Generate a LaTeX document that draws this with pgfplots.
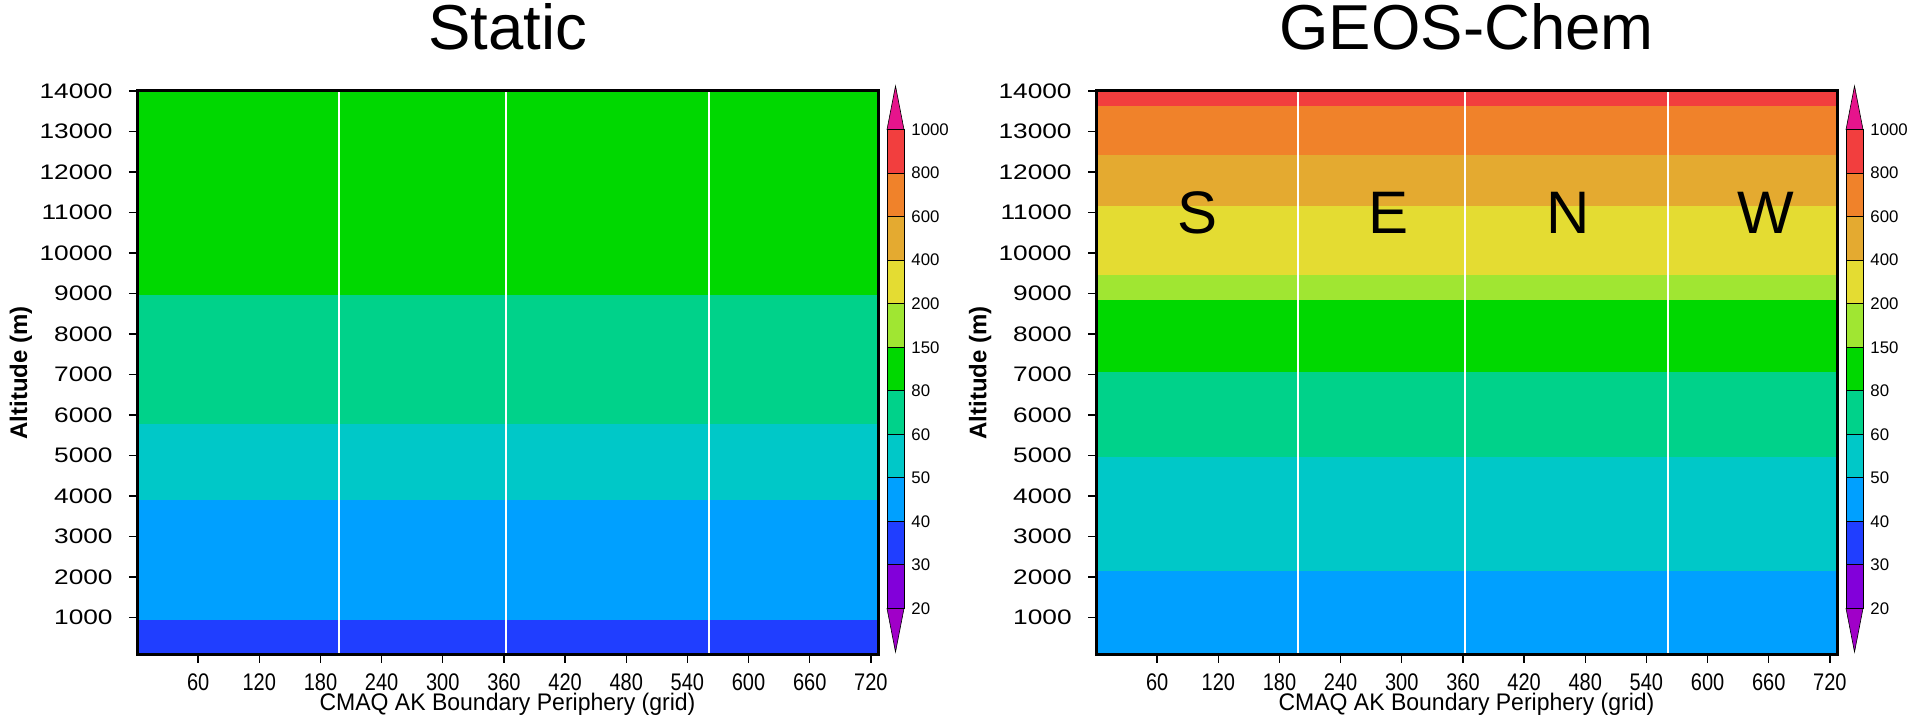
\documentclass[border=0pt]{standalone}
\usepackage{pgfplots}
\pgfplotsset{compat=1.18}
\usepackage{fontspec}
\setmainfont{Liberation Sans}
\usepackage{graphicx}

\definecolor{cPink}{RGB}{230,20,140}
\definecolor{cRed}{RGB}{242,62,62}
\definecolor{cOrange}{RGB}{240,130,42}
\definecolor{cGold}{RGB}{228,170,48}
\definecolor{cYellow}{RGB}{228,220,50}
\definecolor{cYGreen}{RGB}{160,230,50}
\definecolor{cGreen}{RGB}{0,216,0}
\definecolor{cTeal}{RGB}{0,210,138}
\definecolor{cCyan}{RGB}{0,200,200}
\definecolor{cLBlue}{RGB}{0,160,255}
\definecolor{cBlue}{RGB}{32,62,255}
\definecolor{cPurple}{RGB}{130,0,218}
\definecolor{cPurple2}{RGB}{160,0,200}

\pgfplotsset{
  mainax/.style={
    scale only axis, width=370.5pt, height=282pt,
    xmin=0, xmax=727, ymin=75, ymax=14000,
    axis on top, axis line style={line width=1.5pt},
    tick align=outside, xtick pos=bottom, ytick pos=left,
    scaled x ticks=false, scaled y ticks=false,
    major tick length=4pt, tick style={line width=0.7pt, black},
    xtick={60,120,...,720}, ytick={1000,2000,...,14000},
    xticklabel={\scalebox{1.0}[1.2]{\pgfmathprintnumber[assume math mode=true,1000 sep={},fixed,precision=0]{\tick}}},
    yticklabel={\scalebox{1.25}[1]{\pgfmathprintnumber[assume math mode=true,1000 sep={},fixed,precision=0]{\tick}}},
    xticklabel style={font=\fontsize{10}{12}\selectfont, anchor=center, inner sep=0pt, yshift=-9.5pt},
    yticklabel style={font=\fontsize{10.5}{12}\selectfont, anchor=east, inner sep=0pt, xshift=-8pt},
    xlabel={\scalebox{1.15}[1.2]{CMAQ AK Boundary Periphery (grid)}},
    xlabel style={at={(axis description cs:0.5,-0.087)}, anchor=center, inner sep=0pt, font=\fontsize{10}{12}\selectfont},
    ylabel={Altitude (m)},
    ylabel style={at={(axis description cs:-0.1565,0.5)}, anchor=center, font=\bfseries\fontsize{12}{14}\selectfont},
    title style={at={(axis description cs:0.5,1)}, anchor=base, yshift=14.5pt, font=\fontsize{31.75}{36}\selectfont},
  },
  cbax/.style={
    anchor=south west, scale only axis, width=8.5pt, height=283pt,
    xmin=0, xmax=1, ymin=0, ymax=13, clip=false,
    axis line style={draw=none}, xtick=\empty,
    ytick={1,...,12}, yticklabels={20,30,40,50,60,80,150,200,400,600,800,1000},
    yticklabel pos=right, major tick length=0pt, tick style={draw=none},
    yticklabel style={anchor=west, inner sep=0pt, xshift=3.5pt, font=\fontsize{8.4}{10}\selectfont},
  },
  box/.style={draw=black, line width=0.5pt},
}

\newcommand{\colorbar}{%
  \addplot[fill=cPurple2, draw=black, line width=0.3pt] coordinates {(0,1) (1,1) (0.5,0)} -- cycle;
  \addplot[fill=cPink, draw=black, line width=0.3pt] coordinates {(0,12) (1,12) (0.5,13)} -- cycle;
  \addplot[box, fill=cPurple] coordinates {(0,1) (1,1) (1,2) (0,2)} -- cycle;
  \addplot[box, fill=cBlue] coordinates {(0,2) (1,2) (1,3) (0,3)} -- cycle;
  \addplot[box, fill=cLBlue] coordinates {(0,3) (1,3) (1,4) (0,4)} -- cycle;
  \addplot[box, fill=cCyan] coordinates {(0,4) (1,4) (1,5) (0,5)} -- cycle;
  \addplot[box, fill=cTeal] coordinates {(0,5) (1,5) (1,6) (0,6)} -- cycle;
  \addplot[box, fill=cGreen] coordinates {(0,6) (1,6) (1,7) (0,7)} -- cycle;
  \addplot[box, fill=cYGreen] coordinates {(0,7) (1,7) (1,8) (0,8)} -- cycle;
  \addplot[box, fill=cYellow] coordinates {(0,8) (1,8) (1,9) (0,9)} -- cycle;
  \addplot[box, fill=cGold] coordinates {(0,9) (1,9) (1,10) (0,10)} -- cycle;
  \addplot[box, fill=cOrange] coordinates {(0,10) (1,10) (1,11) (0,11)} -- cycle;
  \addplot[box, fill=cRed] coordinates {(0,11) (1,11) (1,12) (0,12)} -- cycle;
}

\newcommand{\whitelines}{%
  \addplot[white, line width=1.2pt] coordinates {(198,75) (198,14000)};
  \addplot[white, line width=1.2pt] coordinates {(362,75) (362,14000)};
  \addplot[white, line width=1.2pt] coordinates {(561,75) (561,14000)};
}

\begin{document}
\begin{tikzpicture}
\useasboundingbox (0,0) rectangle (965.5pt,357.5pt);

% ---- Static ----
\begin{axis}[mainax, at={(68.5pt,30pt)}, anchor=south west, title={Static}]
  \addplot[fill=cBlue, draw=none] coordinates {(0,75) (727,75) (727,950) (0,950)} -- cycle;
  \addplot[fill=cLBlue, draw=none] coordinates {(0,950) (727,950) (727,3900) (0,3900)} -- cycle;
  \addplot[fill=cCyan, draw=none] coordinates {(0,3900) (727,3900) (727,5790) (0,5790)} -- cycle;
  \addplot[fill=cTeal, draw=none] coordinates {(0,5790) (727,5790) (727,8960) (0,8960)} -- cycle;
  \addplot[fill=cGreen, draw=none] coordinates {(0,8960) (727,8960) (727,14000) (0,14000)} -- cycle;
  \whitelines
\end{axis}
\begin{axis}[cbax, at={(443.5pt,31.5pt)}]
  \colorbar
\end{axis}

% ---- GEOS-Chem ----
\begin{axis}[mainax, at={(548pt,30pt)}, anchor=south west, title={GEOS-Chem}]
  \addplot[fill=cLBlue, draw=none] coordinates {(0,75) (727,75) (727,2140) (0,2140)} -- cycle;
  \addplot[fill=cCyan, draw=none] coordinates {(0,2140) (727,2140) (727,4960) (0,4960)} -- cycle;
  \addplot[fill=cTeal, draw=none] coordinates {(0,4960) (727,4960) (727,7050) (0,7050)} -- cycle;
  \addplot[fill=cGreen, draw=none] coordinates {(0,7050) (727,7050) (727,8850) (0,8850)} -- cycle;
  \addplot[fill=cYGreen, draw=none] coordinates {(0,8850) (727,8850) (727,9450) (0,9450)} -- cycle;
  \addplot[fill=cYellow, draw=none] coordinates {(0,9450) (727,9450) (727,11157) (0,11157)} -- cycle;
  \addplot[fill=cGold, draw=none] coordinates {(0,11157) (727,11157) (727,12413) (0,12413)} -- cycle;
  \addplot[fill=cOrange, draw=none] coordinates {(0,12413) (727,12413) (727,13628) (0,13628)} -- cycle;
  \addplot[fill=cRed, draw=none] coordinates {(0,13628) (727,13628) (727,14000) (0,14000)} -- cycle;
  \whitelines
  \node[font=\fontsize{30}{34}\selectfont] at (axis cs:100,11000) {S};
  \node[font=\fontsize{30}{34}\selectfont] at (axis cs:287,11000) {E};
  \node[font=\fontsize{30}{34}\selectfont] at (axis cs:463,11000) {N};
  \node[font=\fontsize{30}{34}\selectfont] at (axis cs:657,11000) {W};
\end{axis}
\begin{axis}[cbax, at={(923pt,31.5pt)}]
  \colorbar
\end{axis}
\end{tikzpicture}
\end{document}
